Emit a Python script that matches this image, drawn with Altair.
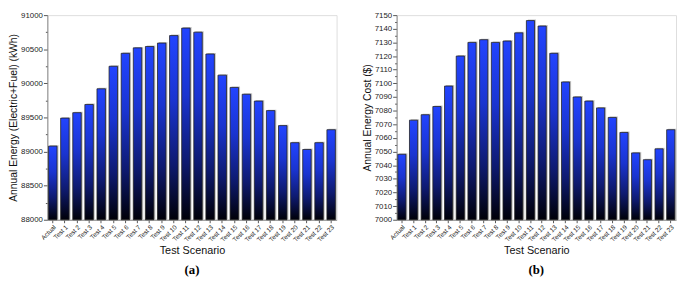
import altair as alt
import pandas as pd

scenarios = ["Actual"] + [f"Test {i}" for i in range(1, 24)]

energy_kwh = [89080, 89490, 89570, 89690, 89920, 90250, 90440, 90520, 90540, 90590,
              90700, 90810, 90750, 90430, 90120, 89940, 89840, 89740, 89600, 89380,
              89130, 89030, 89130, 89320]

cost_usd = [7048, 7073, 7077, 7083, 7098, 7120, 7130, 7132, 7130, 7131,
            7137, 7146, 7142, 7122, 7101, 7090, 7087, 7082, 7075, 7064,
            7049, 7044, 7052, 7066]

energy_domain = [88000, 91000]
energy_ticks = list(range(88000, 91001, 250))
cost_domain = [7000, 7150]
cost_ticks = list(range(7000, 7151, 5))

FONT = "Liberation Sans"
gradient = {
    "gradient": "linear", "x1": 0, "y1": 0, "x2": 0, "y2": 1,
    "stops": [
        {"offset": 0, "color": "#2244ff"},
        {"offset": 0.35, "color": "#1a34d0"},
        {"offset": 0.7, "color": "#0e1a70"},
        {"offset": 1, "color": "#000008"},
    ],
}


def panel(values, domain, ticks, major, ytitle, label, width):
    df = pd.DataFrame({"scenario": scenarios, "value": values, "base": domain[0]})
    x = alt.X("scenario:N", sort=scenarios, title="Test Scenario",
              scale=alt.Scale(paddingInner=0.3, paddingOuter=0.1),
              axis=alt.Axis(labelAngle=-45, labelFontSize=6.5, labelFont=FONT,
                            titleFont=FONT, titleFontSize=11, titleFontWeight="normal",
                            titlePadding=2, tickSize=3, tickColor="#555", domainColor="#888",
                            labelColor="#222", titleColor="#111", labelPadding=1))
    y = alt.Y("value:Q", title=ytitle,
              scale=alt.Scale(domain=domain, nice=False, zero=False, clamp=True),
              axis=alt.Axis(values=ticks, format="d",
                            labelExpr=f"datum.value % {major} == 0 ? datum.label : ''",
                            tickSize={"condition": {"test": f"datum.value % {major} == 0", "value": 4}, "value": 2},
                            labelFontSize=8, labelFont=FONT, titleFont=FONT, titleFontSize=10.5,
                            titleFontWeight="normal", titlePadding=2, labelPadding=1,
                            tickColor="#555", domainColor="#888", labelColor="#222",
                            titleColor="#111", grid=False))
    shadow = alt.Chart(df).mark_bar(color="#c4c4c4", xOffset=1.5, yOffset=-1).encode(
        x=x, y=y, y2="base:Q")
    bars = alt.Chart(df).mark_bar(color=gradient, stroke="#222", strokeWidth=0.8).encode(
        x=x, y=y, y2="base:Q")
    return alt.layer(shadow, bars).properties(
        width=width, height=208,
        title=alt.TitleParams(label, orient="bottom", font="Liberation Serif",
                              fontWeight="bold", fontSize=13, color="#000", offset=9))


left = panel(energy_kwh, energy_domain, energy_ticks, 500,
             "Annual Energy (Electric+Fuel) (kWh)", "(a)", 294)
right = panel(cost_usd, cost_domain, cost_ticks, 10,
              "Annual Energy Cost ($)", "(b)", 284)

chart = alt.hconcat(left, right, spacing=24).properties(
    padding=0
).configure_view(stroke=None).configure(background="white")

chart.save("out.html", embed_options={"renderer": "svg", "actions": False})
